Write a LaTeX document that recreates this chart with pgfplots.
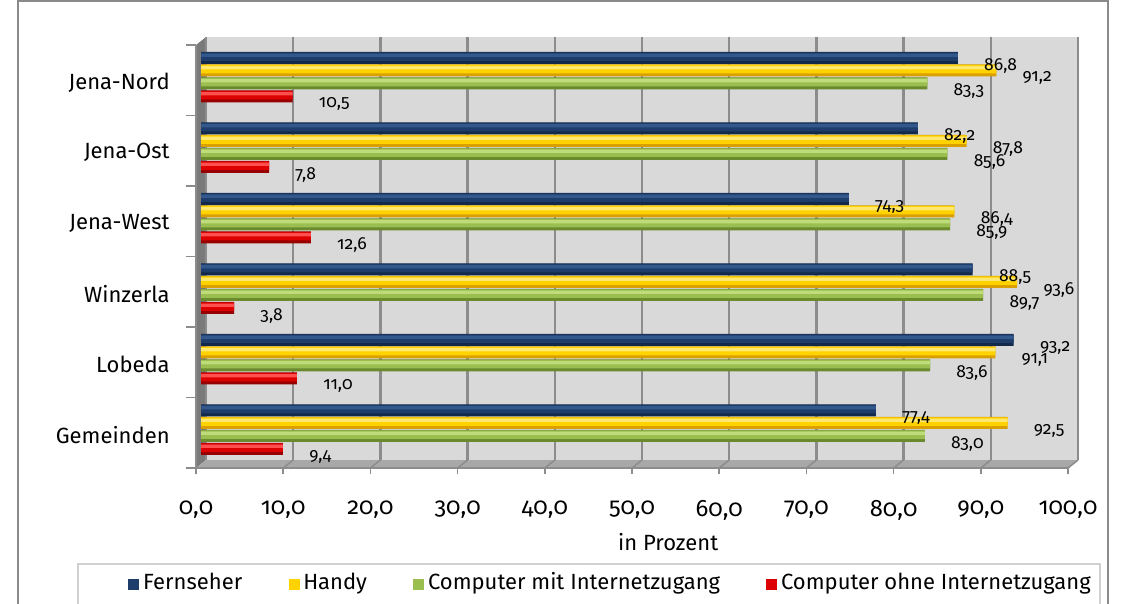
\documentclass[border=0pt]{standalone}
\usepackage{fontspec}
\setmainfont[Numbers=OldStyle]{Fira Sans}
\usepackage{pgfplots}
\usepackage{pgfplotstable}
\pgfplotsset{compat=1.18}

\definecolor{wall}{HTML}{D9D9D9}
\definecolor{gridc}{HTML}{8C8C8C}
\definecolor{sidewall}{HTML}{7A7A7A}
\definecolor{floorc}{HTML}{A8A8A8}
\definecolor{frame}{HTML}{8A8A8A}
\definecolor{lframe}{HTML}{D0D0D0}
% cylinder colours: dark / main / light
\definecolor{bluD}{HTML}{13294A}\definecolor{bluM}{HTML}{1F3D6B}\definecolor{bluL}{HTML}{33598C}
\definecolor{yelD}{HTML}{D9A000}\definecolor{yelM}{HTML}{FFD200}\definecolor{yelL}{HTML}{FFE870}
\definecolor{grnD}{HTML}{6B8A2E}\definecolor{grnM}{HTML}{9BBE50}\definecolor{grnL}{HTML}{BEDD7A}
\definecolor{redD}{HTML}{960000}\definecolor{redM}{HTML}{DD0000}\definecolor{redL}{HTML}{FF5050}

\pgfplotstableread{
y fern handy mit ohne
5 86.8 91.2 83.3 10.5
4 82.2 87.8 85.6 7.8
3 74.3 86.4 85.9 12.6
2 88.5 93.6 89.7 3.8
1 93.2 91.1 83.6 11.0
0 77.4 92.5 83.0 9.4
}\data

\begin{document}
\begin{tikzpicture}
% 1px = 0.4pt, origin top-left
\begin{scope}[x=0.4pt,y=-0.4pt]
\useasboundingbox (0,0) rectangle (1134,596);
\draw[frame, line width=0.6pt] (18,1) rectangle (1108,650);
\draw[lframe, line width=0.8pt] (78,564) rectangle (1100,650);
% 3D box: left wall and floor
\fill[sidewall] (206,37) -- (206,460) -- (196,468) -- (196,45) -- cycle;
\fill[floorc] (206,460) -- (1078,460) -- (1068,468) -- (196,468) -- cycle;
\foreach \v in {1,...,10} \draw[gridc, line width=0.6pt] (206+87.2*\v,460) -- (196+87.2*\v,468);
\foreach \v in {0,...,10} \draw[gridc, line width=0.6pt] (196+87.2*\v,468) -- (196+87.2*\v,474);
\draw[gridc, line width=0.6pt] (196,468) -- (1068,468);
\draw[gridc, line width=0.6pt] (196,45) -- (196,468);
\foreach \k in {0,...,6} \draw[gridc, line width=0.6pt] (186,45+70.5*\k) -- (196,45+70.5*\k);
\end{scope}
\begin{axis}[
  at={(82.4pt,-184pt)}, anchor=south west,
  width=348.8pt, height=169.2pt, scale only axis,
  xmin=0, xmax=100, ymin=-0.5, ymax=5.5,
  clip=false,
  xbar, bar width=4.8pt,
  axis background/.style={fill=wall},
  axis line style={draw=none},
  xmajorgrids, grid style={gridc, line width=0.9pt},
  xtick={0,10,...,100}, ytick={0,...,5},
  yticklabels={Gemeinden,Lobeda,Winzerla,Jena-West,Jena-Ost,Jena-Nord},
  major tick length=0pt,
  /pgf/number format/fixed, /pgf/number format/fixed zerofill,
  /pgf/number format/precision=1, /pgf/number format/use comma,
  /pgf/number format/assume math mode=true,
  xticklabel style={font=\fontsize{9.5}{11}\selectfont, anchor=center, xshift=-4pt, yshift=-20pt},
  yticklabel style={font=\fontsize{8.8}{11}\selectfont, anchor=east, xshift=-11pt, yshift=-4pt},
  xlabel={in Prozent},
  xlabel style={at={(axis description cs:0.53,-0.194)}, anchor=center, font=\fontsize{8.8}{11}\selectfont},
  every node near coord/.append style={font=\fontsize{7}{8}\selectfont, anchor=west, xshift=7pt, yshift=-3.2pt, text=black},
  every axis plot/.append style={draw=none, xshift=-2pt, yshift=-0.6pt, forget plot},
  legend columns=4,
  legend style={at={(axis description cs:0.465,-0.29)}, anchor=center, draw=none, fill=none,
    font=\fontsize{8.8}{11}\selectfont, nodes={inner xsep=1.5pt},
    /tikz/every even column/.append style={column sep=17pt}},
  legend image code/.code={\fill[#1] (0pt,-2.2pt) rectangle (4.4pt,2.2pt);},
]
% Fernseher
\addplot[fill=bluD, bar shift=6.4pt] table[x=fern,y=y] {\data};
\addplot[fill=bluM, bar width=3.4pt, bar shift=6.9pt] table[x=fern,y=y] {\data};
\addplot[fill=bluL, bar width=1.3pt, bar shift=7.4pt] table[x=fern,y=y] {\data};
% Handy
\addplot[fill=yelD, bar shift=1.4pt] table[x=handy,y=y] {\data};
\addplot[fill=yelM, bar width=3.4pt, bar shift=1.9pt] table[x=handy,y=y] {\data};
\addplot[fill=yelL, bar width=1.3pt, bar shift=2.4pt] table[x=handy,y=y] {\data};
% Computer mit Internetzugang
\addplot[fill=grnD, bar shift=-3.8pt] table[x=mit,y=y] {\data};
\addplot[fill=grnM, bar width=3.4pt, bar shift=-3.3pt] table[x=mit,y=y] {\data};
\addplot[fill=grnL, bar width=1.3pt, bar shift=-2.8pt] table[x=mit,y=y] {\data};
% Computer ohne Internetzugang
\addplot[fill=redD, bar shift=-9pt] table[x=ohne,y=y] {\data};
\addplot[fill=redM, bar width=3.4pt, bar shift=-8.5pt] table[x=ohne,y=y] {\data};
\addplot[fill=redL, bar width=1.3pt, bar shift=-8pt] table[x=ohne,y=y] {\data};
% value labels on top
\addplot[fill=none, bar shift=6.4pt, nodes near coords] table[x=fern,y=y] {\data};
\addplot[fill=none, bar shift=1.4pt, nodes near coords] table[x=handy,y=y] {\data};
\addplot[fill=none, bar shift=-3.8pt, nodes near coords] table[x=mit,y=y] {\data};
\addplot[fill=none, bar shift=-9pt, nodes near coords] table[x=ohne,y=y] {\data};

\addlegendimage{fill=bluM}\addlegendentry{Fernseher}
\addlegendimage{fill=yelM}\addlegendentry{Handy}
\addlegendimage{fill=grnM}\addlegendentry{Computer mit Internetzugang}
\addlegendimage{fill=redM}\addlegendentry{Computer ohne Internetzugang}
\end{axis}
\end{tikzpicture}
\end{document}
